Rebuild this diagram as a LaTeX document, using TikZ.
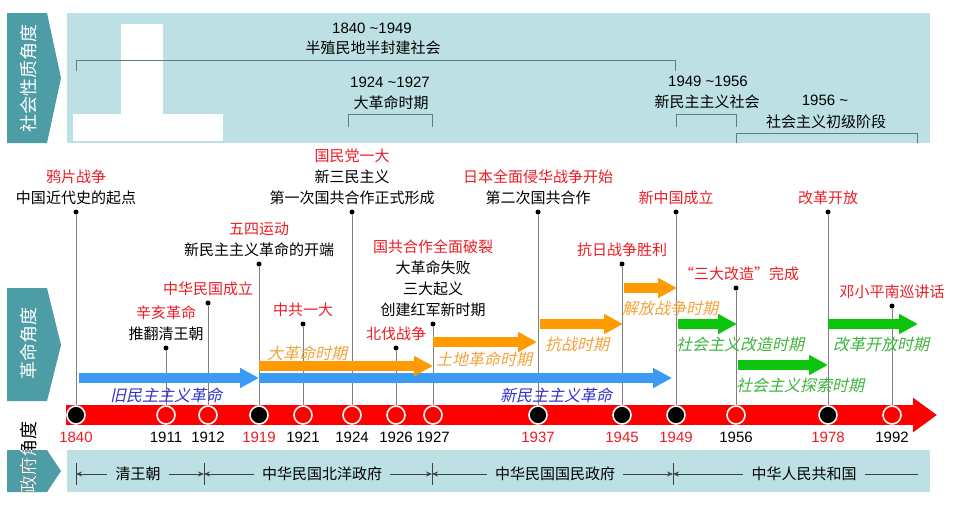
\documentclass[tikz,border=0pt]{standalone}
\usepackage{fontspec}
\setmainfont{Noto Sans CJK SC}
\newfontfamily\numfont{Liberation Sans}
\newfontfamily\slfont[FakeSlant=0.22]{Noto Sans CJK SC}
\usepackage{xcolor}
\usetikzlibrary{arrows.meta, positioning}
\definecolor{bandlight}{HTML}{BDE0E4}
\definecolor{tabteal}{HTML}{4C9DA5}
\definecolor{brkgray}{HTML}{5E7F84}
\definecolor{evred}{HTML}{EC1C24}
\definecolor{barred}{HTML}{FF0000}
\definecolor{perblue}{HTML}{3A9AF5}
\definecolor{txtblue}{HTML}{3333CC}
\definecolor{perorange}{HTML}{FF9A00}
\definecolor{txtorange}{HTML}{F2A33A}
\definecolor{pergreen}{HTML}{0CC40C}
\definecolor{txtgreen}{HTML}{3DB43D}
\definecolor{stemgray}{HTML}{808080}
\tikzset{
  band/.style={fill=bandlight},
  tab/.style={fill=tabteal},
  tabtxt/.style={rotate=90, text=white, inner sep=0pt,
                 font=\fontsize{18}{18}\selectfont},
  brk/.style={draw=brkgray, line width=0.9pt},
  toptxt/.style={font=\fontsize{15}{21}\selectfont, inner sep=0pt},
  topnum/.style={font=\numfont\fontsize{15}{15}\selectfont, inner sep=0pt},
  evt/.style={font=\fontsize{15}{21}\selectfont, align=center, inner sep=1pt},
  evdot/.style={circle, fill=black, inner sep=0pt, minimum size=5pt},
  vline/.style={draw=stemgray, line width=0.9pt},
  mkblack/.style={circle, fill=black, draw=white, line width=1.6pt,
                  minimum size=18pt, inner sep=0pt},
  mkred/.style={mkblack, fill=barred},
  yrlbl/.style={font=\numfont\fontsize{15}{15}\selectfont, inner sep=0pt},
  period/.style={line width=10pt, -{Triangle[length=19pt, width=19pt]}},
  blueper/.style  ={period, draw=perblue},
  orangeper/.style={period, draw=perorange},
  greenper/.style ={period, draw=pergreen},
  perlbl/.style={font=\slfont\fontsize{16}{16}\selectfont, inner sep=0pt},
  govt/.style={font=\fontsize{15}{15}\selectfont, inner sep=0pt, inner xsep=8pt},
  govln/.style={draw=black!75, line width=0.7pt},
  gtip/.tip={Stealth[length=6pt, width=5pt]},
}

\begin{document}
\begin{tikzpicture}[x=1pt, y=-1pt]
  \useasboundingbox (0,0) rectangle (960,504);

  % ── Bands and side tabs ──────────────────────────────────────────────────
  \fill[band] (67,13) rectangle (930,143);
  \fill[band] (67,450) rectangle (930,492);
  \fill[tab] (7,13) -- (47,13) -- (61,78) -- (47,143) -- (7,143) -- cycle;
  \fill[tab] (7,288) -- (47,288) -- (61,345) -- (47,401) -- (7,401) -- cycle;
  \fill[tab] (7,450) -- (47,450) -- (61,471) -- (47,492) -- (7,492) -- cycle;
  \node[tabtxt] (soc) at (29,78)  {社会性质角度};
  \node[tabtxt] (rev) at (29,343) {革命角度};
  \node[tabtxt, text=black] (gov) at (29,457) {政府角度};
  \begin{scope}
    \clip (7,450) -- (47,450) -- (61,471) -- (47,492) -- (7,492) -- cycle;
    \node[tabtxt] (govw) at (29,457) {政府角度};
  \end{scope}

  % white patch
  \fill[white] (121,24) rectangle (163,114);
  \fill[white] (73,114) rectangle (223,141);

  % ── Society brackets ─────────────────────────────────────────────────────
  \node[topnum] (s1y) at (372,28)  {1840 \textasciitilde1949};
  \node[toptxt] (s1t) at (373,48)  {半殖民地半封建社会};
  \draw[brk] (76,71) -- (76,60) -- (675,60) -- (675,71);

  \node[topnum] (s2y) at (390,82)  {1924 \textasciitilde1927};
  \node[toptxt] (s2t) at (391,103) {大革命时期};
  \draw[brk] (348,127) -- (348,114) -- (432,114) -- (432,127);

  \node[topnum] (s3y) at (708,81)  {1949 \textasciitilde1956};
  \node[toptxt] (s3t) at (707,102) {新民主主义社会};
  \draw[brk] (676,127) -- (676,114) -- (736,114) -- (736,127);

  \node[topnum] (s4y) at (825,100) {1956 \textasciitilde};
  \node[toptxt] (s4t) at (826,122) {社会主义初级阶段};
  \draw[brk] (736,143) -- (736,133) -- (917,133) -- (917,143);

  % ── Event dots ───────────────────────────────────────────────────────────
  \node[evdot] (d1840) at (76,212)  {};
  \node[evdot] (d1911) at (166,348) {};
  \node[evdot] (d1912) at (208,303) {};
  \node[evdot] (d1919) at (259,264) {};
  \node[evdot] (d1921) at (303,324) {};
  \node[evdot] (d1924) at (352,212) {};
  \node[evdot] (d1926) at (396,348) {};
  \node[evdot] (d1927) at (433,324) {};
  \node[evdot] (d1937) at (538,212) {};
  \node[evdot] (d1945) at (622,264) {};
  \node[evdot] (d1949) at (676,212) {};
  \node[evdot] (d1956) at (736,288) {};
  \node[evdot] (d1978) at (828,212) {};
  \node[evdot] (d1992) at (892,306) {};

  % ── Event texts ──────────────────────────────────────────────────────────
  \node[evt, above=3pt of d1840] (n1840) {\textcolor{evred}{鸦片战争}\\中国近代史的起点};
  \node[evt, above=3pt of d1911] (n1911) {\textcolor{evred}{辛亥革命}\\推翻清王朝};
  \node[evt, above=3pt of d1912, text=evred] (n1912) {中华民国成立};
  \node[evt, above=3pt of d1919] (n1919) {\textcolor{evred}{五四运动}\\新民主主义革命的开端};
  \node[evt, above=3pt of d1921, text=evred] (n1921) {中共一大};
  \node[evt, above=3pt of d1924] (n1924) {\textcolor{evred}{国民党一大}\\新三民主义\\第一次国共合作正式形成};
  \node[evt, above=3pt of d1926, text=evred] (n1926) {北伐战争};
  \node[evt, above=3pt of d1927] (n1927) {\textcolor{evred}{国共合作全面破裂}\\大革命失败\\三大起义\\创建红军新时期};
  \node[evt, above=3pt of d1937] (n1937) {\textcolor{evred}{日本全面侵华战争开始}\\第二次国共合作};
  \node[evt, above=3pt of d1945, text=evred] (n1945) {抗日战争胜利};
  \node[evt, above=3pt of d1949, text=evred] (n1949) {新中国成立};
  \node[evt, above=3pt of d1956, text=evred, xshift=3pt] (n1956) {“三大改造”完成};
  \node[evt, above=3pt of d1978, text=evred] (n1978) {改革开放};
  \node[evt, above=3pt of d1992, text=evred] (n1992) {邓小平南巡讲话};

  % ── Stems down to the time axis ──────────────────────────────────────────
  \coordinate (t1840) at (76,415);
  \coordinate (t1911) at (166,415);
  \coordinate (t1912) at (208,415);
  \coordinate (t1919) at (259,415);
  \coordinate (t1921) at (303,415);
  \coordinate (t1924) at (352,415);
  \coordinate (t1926) at (396,415);
  \coordinate (t1927) at (433,415);
  \coordinate (t1937) at (538,415);
  \coordinate (t1945) at (622,415);
  \coordinate (t1949) at (676,415);
  \coordinate (t1956) at (736,415);
  \coordinate (t1978) at (828,415);
  \coordinate (t1992) at (892,415);

  \draw[vline] (d1840) -- (t1840);
  \draw[vline] (d1911) -- (t1911);
  \draw[vline] (d1912) -- (t1912);
  \draw[vline] (d1919) -- (t1919);
  \draw[vline] (d1921) -- (t1921);
  \draw[vline] (d1924) -- (t1924);
  \draw[vline] (d1926) -- (t1926);
  \draw[vline] (d1927) -- (t1927);
  \draw[vline] (d1937) -- (t1937);
  \draw[vline] (d1945) -- (t1945);
  \draw[vline] (d1949) -- (t1949);
  \draw[vline] (d1956) -- (t1956);
  \draw[vline] (d1978) -- (t1978);
  \draw[vline] (d1992) -- (t1992);

  % ── Period arrows ────────────────────────────────────────────────────────
  \draw[blueper]   (79,378)  -- (259,378);
  \draw[blueper]   (259,378) -- (672,378);
  \draw[orangeper] (259,366) -- (433,366);
  \draw[orangeper] (433,342) -- (537,342);
  \draw[orangeper] (540,324) -- (623,324);
  \draw[orangeper] (624,288) -- (677,288);
  \draw[greenper]  (678,324) -- (737,324);
  \draw[greenper]  (738,365) -- (828,365);
  \draw[greenper]  (828,324) -- (918,324);

  \node[perlbl, text=txtblue]   (p-old)  at (166,395) {旧民主主义革命};
  \node[perlbl, text=txtblue]   (p-new)  at (556,395) {新民主主义革命};
  \node[perlbl, text=txtorange] (p-big)  at (307,353) {大革命时期};
  \node[perlbl, text=txtorange] (p-land) at (484,359) {土地革命时期};
  \node[perlbl, text=txtorange] (p-war)  at (577,344) {抗战时期};
  \node[perlbl, text=txtorange] (p-lib)  at (670,308) {解放战争时期};
  \node[perlbl, text=txtgreen]  (p-tran) at (740,344) {社会主义改造时期};
  \node[perlbl, text=txtgreen]  (p-expl) at (800,385) {社会主义探索时期};
  \node[perlbl, text=txtgreen]  (p-open) at (881,344) {改革开放时期};

  % ── Time axis ────────────────────────────────────────────────────────────
  \draw[line width=20pt, draw=barred, -{Triangle[length=24pt, width=33pt]}]
    (66,415) -- (937,415);

  \node[mkblack] (m1840) at (t1840) {};
  \node[mkred]   (m1911) at (t1911) {};
  \node[mkred]   (m1912) at (t1912) {};
  \node[mkblack] (m1919) at (t1919) {};
  \node[mkred]   (m1921) at (t1921) {};
  \node[mkred]   (m1924) at (t1924) {};
  \node[mkred]   (m1926) at (t1926) {};
  \node[mkred]   (m1927) at (t1927) {};
  \node[mkblack] (m1937) at (t1937) {};
  \node[mkblack] (m1945) at (t1945) {};
  \node[mkblack] (m1949) at (t1949) {};
  \node[mkred]   (m1956) at (t1956) {};
  \node[mkblack] (m1978) at (t1978) {};
  \node[mkred]   (m1992) at (t1992) {};

  \node[yrlbl, below=7pt of m1840, text=evred] (y1840) {1840};
  \node[yrlbl, below=7pt of m1911] (y1911) {1911};
  \node[yrlbl, below=7pt of m1912] (y1912) {1912};
  \node[yrlbl, below=7pt of m1919, text=evred] (y1919) {1919};
  \node[yrlbl, below=7pt of m1921] (y1921) {1921};
  \node[yrlbl, below=7pt of m1924] (y1924) {1924};
  \node[yrlbl, below=7pt of m1926] (y1926) {1926};
  \node[yrlbl, below=7pt of m1927] (y1927) {1927};
  \node[yrlbl, below=7pt of m1937, text=evred] (y1937) {1937};
  \node[yrlbl, below=7pt of m1945, text=evred] (y1945) {1945};
  \node[yrlbl, below=7pt of m1949, text=evred] (y1949) {1949};
  \node[yrlbl, below=7pt of m1956] (y1956) {1956};
  \node[yrlbl, below=7pt of m1978, text=evred] (y1978) {1978};
  \node[yrlbl, below=7pt of m1992] (y1992) {1992};

  % ── Governments ──────────────────────────────────────────────────────────
  \coordinate (g0) at (76,474);
  \coordinate (g1) at (204,474);
  \coordinate (g2) at (432,474);
  \coordinate (g3) at (673,474);
  \coordinate (g4) at (918,474);

  \draw[govln] ([yshift=-11pt]g0) -- ([yshift=11pt]g0);
  \draw[govln] ([yshift=-11pt]g1) -- ([yshift=11pt]g1);
  \draw[govln] ([yshift=-11pt]g2) -- ([yshift=11pt]g2);
  \draw[govln] ([yshift=-11pt]g3) -- ([yshift=11pt]g3);

  \node[govt] (qing)   at (138,474) {清王朝};
  \node[govt] (beiy)   at (322,474) {中华民国北洋政府};
  \node[govt] (guom)   at (555,474) {中华民国国民政府};
  \node[govt] (prc)    at (804,474) {中华人民共和国};

  \draw[govln, gtip-] (g0) -- (qing);
  \draw[govln, -gtip] (qing) -- (g1);
  \draw[govln, gtip-] (g1) -- (beiy);
  \draw[govln, -gtip] (beiy) -- (g2);
  \draw[govln, gtip-] (g2) -- (guom);
  \draw[govln, -gtip] (guom) -- (g3);
  \draw[govln, gtip-] (g3) -- (prc);
  \draw[govln] (prc) -- (g4);

\end{tikzpicture}
\end{document}
